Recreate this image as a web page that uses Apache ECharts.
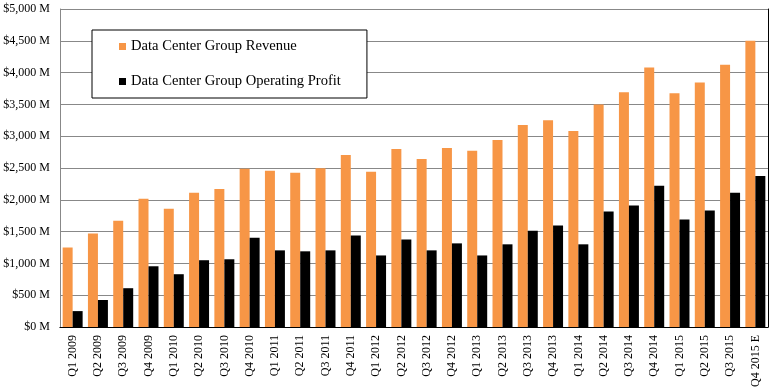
<!DOCTYPE html>
<html>
<head>
<meta charset="utf-8">
<script src="https://cdn.jsdelivr.net/npm/echarts@6/dist/echarts.min.js"></script>
<style>html,body{margin:0;padding:0;background:#fff;}#c{width:776px;height:390px;}</style>
</head>
<body>
<div id="c"></div>
<script>
const categories = ["Q1 2009","Q2 2009","Q3 2009","Q4 2009","Q1 2010","Q2 2010","Q3 2010","Q4 2010",
  "Q1 2011","Q2 2011","Q3 2011","Q4 2011","Q1 2012","Q2 2012","Q3 2012","Q4 2012",
  "Q1 2013","Q2 2013","Q3 2013","Q4 2013","Q1 2014","Q2 2014","Q3 2014","Q4 2014",
  "Q1 2015","Q2 2015","Q3 2015","Q4 2015 E"];
const revenue = [1250,1470,1670,2015,1860,2110,2170,2490,
  2455,2425,2495,2705,2440,2800,2640,2815,
  2770,2940,3175,3250,3080,3500,3690,4080,
  3675,3845,4125,4500];
const operatingProfit = [250,425,610,955,830,1050,1065,1405,
  1205,1190,1205,1440,1125,1375,1205,1315,
  1125,1300,1515,1595,1300,1815,1910,2220,
  1690,1830,2110,2375];
const yTicks = {min:0, max:5000, interval:500};
const seriesNames = ["Data Center Group Revenue","Data Center Group Operating Profit"];

const font = "'Liberation Serif', 'Times New Roman', serif";
const chart = echarts.init(document.getElementById('c'), null, {renderer:'canvas'});
chart.setOption({
  animation:false,
  backgroundColor:'#fff',
  textStyle:{fontFamily:font},
  grid:{left:60, right:8, top:9, bottom:61, containLabel:false},
  legend:{
    orient:'vertical', left:92, top:30,
    padding:[9,26,9,27], itemGap:20,
    itemWidth:7, itemHeight:7, icon:'rect',
    borderColor:'#000', borderWidth:1, backgroundColor:'#fff',
    textStyle:{fontFamily:font, fontSize:14.6, color:'#000'},
    data:seriesNames
  },
  xAxis:[{
    type:'category', data:categories, position:'bottom',
    axisLine:{lineStyle:{color:'#888', width:1}},
    axisTick:{show:false},
    axisLabel:{rotate:90, interval:0, margin:8, fontFamily:font, fontSize:12, color:'#000'}
  },{
    type:'category', data:categories, position:'top',
    axisLine:{lineStyle:{color:'#000', width:1}},
    axisTick:{show:false}, axisLabel:{show:false}
  }],
  yAxis:[{
    type:'value', min:yTicks.min, max:yTicks.max, interval:yTicks.interval,
    axisLine:{show:true, lineStyle:{color:'#888'}},
    axisTick:{show:false},
    splitLine:{lineStyle:{color:'#888', width:1}},
    axisLabel:{margin:10, fontFamily:font, fontSize:12, color:'#000',
      formatter:v => '$' + v.toLocaleString('en-US') + ' M'}
  },{
    type:'value', position:'right', min:yTicks.min, max:yTicks.max, interval:yTicks.interval,
    axisLine:{show:true, lineStyle:{color:'#000'}},
    axisTick:{show:false}, axisLabel:{show:false}, splitLine:{show:false}
  }],
  series:[{
    name:seriesNames[0], type:'bar', data:revenue,
    xAxisIndex:0, yAxisIndex:0,
    itemStyle:{color:'#F79646'}, barGap:'0%', barCategoryGap:'21%'
  },{
    name:seriesNames[1], type:'bar', data:operatingProfit,
    xAxisIndex:0, yAxisIndex:0,
    itemStyle:{color:'#000'}, barGap:'0%', barCategoryGap:'21%'
  }]
});
</script>
</body>
</html>
